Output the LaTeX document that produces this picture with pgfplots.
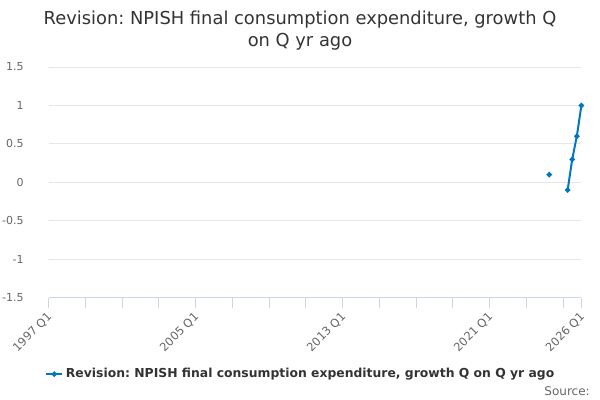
\documentclass[border=0pt]{standalone}
\usepackage{pgfplots}
\pgfplotsset{compat=1.18}
\usepackage{fontspec}
\setmainfont{DejaVu Sans}
\frenchspacing
\definecolor{serblue}{RGB}{0,119,192}
\definecolor{axisblue}{RGB}{204,214,235}
\definecolor{gridgray}{RGB}{230,230,230}
\definecolor{labgray}{RGB}{102,102,102}
\definecolor{titlegray}{RGB}{51,51,51}
\begin{document}
\begin{tikzpicture}
\useasboundingbox (0,0) rectangle (450pt,300pt);
\begin{axis}[
  at={(36.45pt,76.7pt)}, anchor=south west,
  scale only axis, width=399.6pt, height=173pt,
  xmin=1997, xmax=2026, ymin=-1.5, ymax=1.5,
  ytick={-1.5,-1,...,1.5},
  xtick={1997,2005,2013,2021,2026},
  xticklabels={1997 Q1,2005 Q1,2013 Q1,2021 Q1,2026 Q1},
  minor xtick={1999,2001,2003,2007,2009,2011,2015,2017,2019,2023,2025},
  axis x line*=bottom, axis y line*=left,
  x axis line style={draw=axisblue, -},
  y axis line style={draw=none},
  ymajorgrids, grid style={gridgray, line width=0.75pt},
  ytick style={draw=none},
  xtick style={draw=axisblue, line width=0.75pt},
  minor x tick style={draw=axisblue, line width=0.75pt},
  tick align=outside, major tick length=7.5pt, minor tick length=7.5pt,
  /pgf/number format/assume math mode=true,
  yticklabel style={font=\fontsize{8.25}{10}\selectfont, text=labgray, anchor=east, inner sep=0pt, xshift=-11pt},
  xticklabel style={font=\fontsize{8.6}{10}\selectfont, text=labgray, rotate=45, anchor=east, inner sep=0pt, yshift=-4.5pt, xshift=-3pt},
  unbounded coords=jump,
  legend style={at={(0.474,-0.331)}, anchor=center, draw=none, fill=none,
    font=\bfseries\fontsize{9.28}{12}\selectfont, text=titlegray, inner sep=0pt},
  legend image code/.code={
    \draw[serblue, line width=1.5pt] (0pt,0pt) -- (12pt,0pt);
    \fill[serblue] (6pt,0pt) circle (1.2pt);
  },
  clip=false,
]
\addplot[serblue, line width=1.5pt, mark=*, mark size=1.2pt, mark options={solid}]
  coordinates {(2024.25,0.1) (2024.5,nan) (2025.25,-0.1) (2025.5,0.3) (2025.75,0.6) (2026.0,1.0)};
\addlegendentry{Revision: NPISH final consumption expenditure, growth Q on Q yr ago}
\end{axis}
\node[align=center, text=titlegray, font=\fontsize{13.4}{16.5}\selectfont] at (225pt,276.75pt) {Revision: NPISH final consumption expenditure, growth Q\\on Q yr ago};
\node[anchor=east, text=labgray, font=\fontsize{9}{11}\selectfont, inner sep=0pt] at (442.5pt,6.75pt) {Source:};
\end{tikzpicture}
\end{document}
